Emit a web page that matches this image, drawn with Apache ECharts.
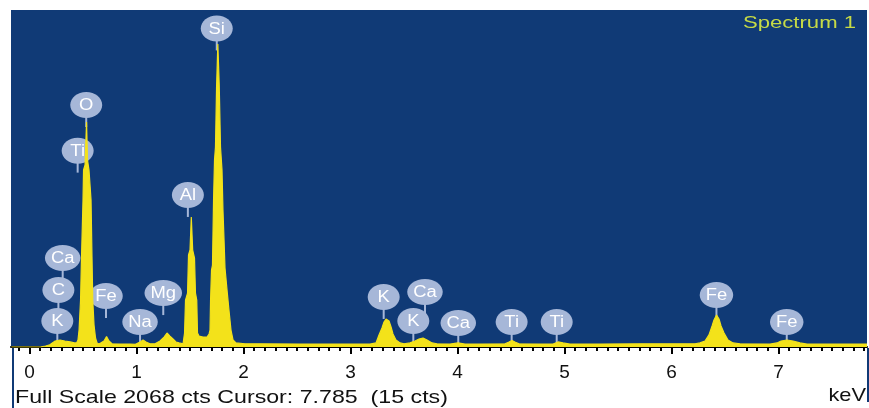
<!DOCTYPE html>
<html><head><meta charset="utf-8">
<script src="https://cdn.jsdelivr.net/npm/echarts@6/dist/echarts.min.js"></script>
<style>html,body{margin:0;padding:0;background:#fff}#c{width:869px;height:408px}</style>
</head><body><div id="c"></div>
<script>
// Spectrum (energy in keV, counts)
const energyKeV = [-0.17,0.10,0.15,0.19,0.24,0.285,0.33,0.38,0.42,0.44,0.453,0.463,0.477,0.486,0.500,0.505,0.519,0.533,0.542,0.556,0.575,0.584,0.591,0.603,0.617,0.631,0.650,0.668,0.696,0.720,0.743,0.771,0.85,0.94,0.99,1.033,1.061,1.089,1.126,1.173,1.220,1.257,1.285,1.313,1.341,1.369,1.397,1.435,1.449,1.458,1.477,1.486,1.500,1.512,1.525,1.542,1.551,1.563,1.570,1.584,1.621,1.659,1.678,1.687,1.692,1.701,1.710,1.720,1.729,1.738,1.748,1.760,1.773,1.785,1.799,1.808,1.818,1.827,1.846,1.864,1.883,1.902,1.930,2.014,2.154,2.528,2.902,3.182,3.238,3.266,3.294,3.313,3.332,3.346,3.360,3.379,3.397,3.425,3.463,3.500,3.556,3.603,3.640,3.678,3.715,3.762,3.808,3.930,4.005,4.070,4.210,4.444,4.481,4.509,4.537,4.575,4.771,4.893,4.939,4.986,5.051,5.332,5.706,6.079,6.220,6.266,6.313,6.350,6.379,6.397,6.421,6.444,6.463,6.491,6.528,6.575,6.640,6.921,6.986,7.024,7.079,7.136,7.201,7.266,7.481,7.827];
const counts = [0,0,6,14,37,43,37,31,25,25,43,104,288,552,902,1086,1117,1380,1147,1086,902,552,288,135,55,25,18,20,37,64,37,20,18,18,16,31,43,31,20,20,37,61,86,67,49,31,25,20,86,288,331,565,595,798,595,546,331,288,86,67,61,61,80,104,288,472,503,902,1147,1227,1589,1859,1608,1227,1086,841,657,485,350,227,104,43,25,20,20,18,18,18,25,74,117,153,172,178,160,123,80,43,25,20,25,37,49,55,43,25,20,18,25,18,18,20,31,40,31,20,18,18,31,25,18,18,20,20,20,25,37,74,129,166,196,172,129,86,43,25,20,18,25,37,43,37,25,18,18,18];

// Element peak labels
const peakNames = ['Si','O','Ti','Al','Ca','C','K','Fe','Na','Mg','K','Ca','K','Ca','Ti','Ti','Fe','Fe'];
const peakKeV = [1.75,0.53,0.45,1.48,0.31,0.27,0.26,0.715,1.033,1.25,3.31,3.696,3.587,4.007,4.506,4.927,6.42,7.077];
const peakLabelCts = [1955,1485,1205,933,546,350,160,313,153,331,307,337,160,147,153,153,319,153];

// Axis
const majorTicks = [0,1,2,3,4,5,6,7];
const tickLabels = ['0','1','2','3','4','5','6','7'];
const fullScale = 2068;
const xMin = -0.173, xMax = 7.827;
const minorTicks = [];
for (let k = -1; k <= 78; k++) { if (k % 10 !== 0) minorTicks.push(k / 10); }

const BG = '#103a76', YEL = '#f3e21a', PIN = '#a6b7d8';
const measure = document.createElement('canvas').getContext('2d');
measure.font = '16px "Liberation Sans"';

const chart = echarts.init(document.getElementById('c'), null, {renderer: 'canvas'});
chart.setOption({
  animation: false,
  backgroundColor: '#ffffff',
  grid: {left: 11, right: 2, top: 10, bottom: 61, show: true, backgroundColor: BG, borderWidth: 0},
  xAxis: [{
    type: 'value', min: xMin, max: xMax, position: 'bottom',
    axisLine: {onZero: false, lineStyle: {color: '#000', width: 2}},
    axisTick: {customValues: majorTicks, length: 7, lineStyle: {color: '#000', width: 2}},
    axisLabel: {customValues: majorTicks, margin: 16, color: '#111', fontSize: 19,
      fontFamily: '"Liberation Sans", Arial',
      formatter: v => tickLabels[majorTicks.indexOf(Math.round(v))]},
    splitLine: {show: false}
  }, {
    type: 'value', min: xMin, max: xMax, position: 'bottom',
    axisLine: {show: false, onZero: false},
    axisTick: {customValues: minorTicks, length: 4, lineStyle: {color: '#000', width: 2}},
    axisLabel: {show: false},
    splitLine: {show: false}
  }],
  yAxis: {type: 'value', min: 0, max: fullScale, show: false},
  series: [{
    type: 'line', xAxisIndex: 0,
    data: energyKeV.map((e, i) => [e, counts[i]]),
    showSymbol: false, symbol: 'none', silent: true,
    lineStyle: {color: YEL, width: 1.2},
    areaStyle: {color: YEL, opacity: 1}
  }, {
    type: 'custom', xAxisIndex: 0, silent: true, clip: false,
    data: peakKeV.map((e, i) => [e, peakLabelCts[i]]),
    encode: {x: 0, y: 1},
    renderItem: (params, api) => {
      const p = api.coord([api.value(0), api.value(1)]);
      const name = peakNames[params.dataIndex];
      const w = measure.measureText(name).width * 1.15;
      const rx = Math.max(16, w / 2 + 6), ry = 13;
      return {type: 'group', children: [
        {type: 'line', shape: {x1: p[0], y1: p[1], x2: p[0], y2: p[1] + ry + 9},
          style: {stroke: PIN, lineWidth: 2}},
        {type: 'ellipse', shape: {cx: p[0], cy: p[1], rx: rx, ry: ry}, style: {fill: PIN}},
        {type: 'text', x: p[0], y: p[1] + 1, scaleX: 1.15,
          style: {text: name, fill: '#ffffff', font: '16px "Liberation Sans", Arial',
            align: 'center', verticalAlign: 'middle'}}
      ]};
    }
  }],
  graphic: [
    {type: 'text', x: 743, y: 23, scaleX: 1.3, silent: true,
      style: {text: 'Spectrum 1', fill: '#c6da46', font: '17px "Liberation Sans", Arial', align: 'left', verticalAlign: 'middle'}},
    {type: 'text', x: 15, y: 398, scaleX: 1.22, silent: true,
      style: {text: 'Full Scale 2068 cts Cursor: 7.785  (15 cts)', fill: '#111', font: '19px "Liberation Sans", Arial', align: 'left', verticalAlign: 'middle'}},
    {type: 'text', x: 866, y: 396, scaleX: 1.18, silent: true,
      style: {text: 'keV', fill: '#111', font: '18.5px "Liberation Sans", Arial', align: 'right', verticalAlign: 'middle'}},
    {type: 'line', silent: true, shape: {x1: 13, y1: 348, x2: 13, y2: 408}, style: {stroke: BG, lineWidth: 2}},
    {type: 'line', silent: true, shape: {x1: 868, y1: 348, x2: 868, y2: 402}, style: {stroke: BG, lineWidth: 2}}
  ]
});
</script></body></html>
